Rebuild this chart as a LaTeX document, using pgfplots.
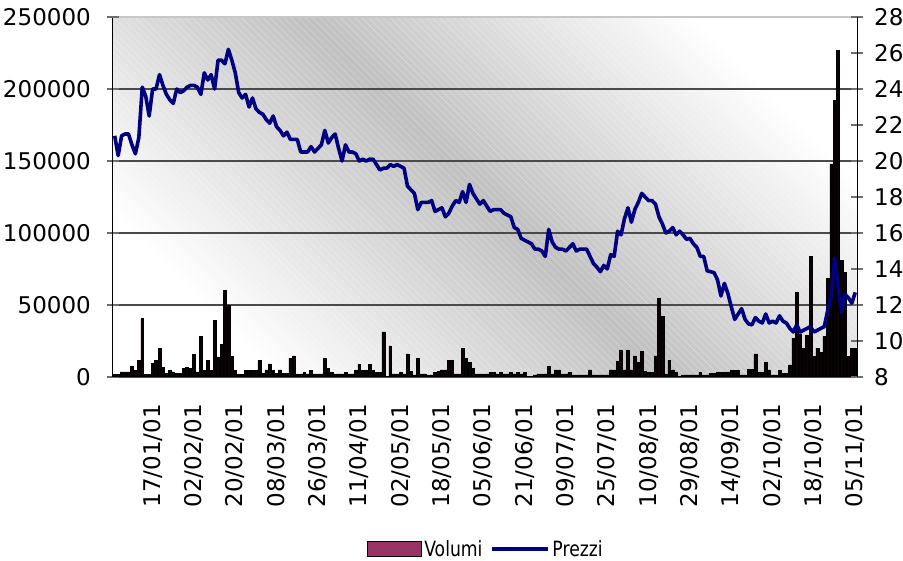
\documentclass[border=0pt]{standalone}
\usepackage{fontspec}
\setmainfont{DejaVu Sans}
\newfontfamily\legendfont{DejaVu Sans}[FakeStretch=0.82]
\usepackage{pgfplots}
\usepackage{pgfplotstable}
\pgfplotsset{compat=1.18}
\usetikzlibrary{patterns.meta}
\definecolor{volcol}{HTML}{993366}
\definecolor{barfill}{HTML}{0A0204}
\definecolor{prezzi}{HTML}{000080}
\definecolor{bgmid}{HTML}{C0C0C0}
\definecolor{gridc}{HTML}{4A4A4A}
\definecolor{tickc}{HTML}{6E6E6E}

\pgfplotstableread{
i v p
0 1850 21.4
1 1850 20.3
2 3470 21.4
3 3470 21.5
4 3470 21.5
5 7400 20.9
6 4630 20.4
7 11570 21.3
8 40500 24.1
9 1850 23.6
10 1850 22.5
11 9260 24.0
12 11570 24.0
13 19680 24.8
14 6940 24.2
15 2300 23.7
16 4630 23.4
17 3470 23.2
18 2300 24.0
19 2300 23.8
20 5790 23.9
21 6940 24.1
22 5790 24.2
23 15740 24.2
24 3470 24.1
25 28240 23.7
26 4630 24.9
27 11570 24.5
28 4630 24.8
29 39350 24.0
30 13890 25.6
31 22680 25.6
32 60180 25.4
33 49770 26.2
34 14350 25.6
35 4630 24.9
36 1850 23.8
37 1850 23.5
38 4630 23.7
39 4630 23.0
40 4630 23.5
41 4400 22.9
42 11340 22.7
43 2550 22.6
44 4860 22.3
45 9030 22.1
46 4400 22.5
47 2550 21.9
48 4860 21.7
49 2550 21.4
50 2550 21.6
51 12960 21.2
52 14580 21.2
53 2080 21.2
54 2080 20.5
55 3010 20.5
56 2080 20.5
57 4400 20.8
58 2080 20.5
59 2080 20.7
60 2080 20.9
61 12960 21.7
62 6020 21.0
63 3010 21.3
64 2080 21.5
65 2080 20.7
66 2080 20.0
67 3010 20.9
68 2080 20.5
69 2080 20.5
70 4400 20.4
71 8800 20.0
72 4400 20.1
73 4400 20.0
74 8800 20.1
75 4400 20.1
76 3010 19.8
77 3010 19.5
78 31250 19.6
79 0 19.6
80 21530 19.8
81 2080 19.7
82 2080 19.8
83 3000 19.7
84 2080 19.6
85 15970 18.6
86 3700 18.4
87 1390 18.2
88 12960 17.3
89 2080 17.7
90 2080 17.7
91 1390 17.7
92 1390 17.8
93 3000 17.2
94 3700 17.3
95 4860 17.4
96 4860 16.9
97 11800 17.1
98 11800 17.5
99 2080 17.8
100 2080 17.7
101 19900 18.3
102 12960 17.7
103 9950 18.7
104 6020 18.2
105 2080 17.9
106 2080 17.6
107 2080 17.8
108 2080 17.5
109 3000 17.2
110 3000 17.3
111 2080 17.3
112 3000 17.3
113 2080 17.1
114 2080 17.0
115 3000 16.9
116 2080 16.3
117 3000 16.2
118 2080 15.7
119 3000 15.6
120 0 15.5
121 0 15.4
122 1390 15.1
123 2080 15.1
124 2080 15.0
125 2080 14.7
126 7170 16.2
127 2080 15.5
128 4860 15.2
129 4860 15.1
130 2080 15.1
131 2080 15.0
132 3000 15.2
133 1390 15.4
134 1390 15.0
135 1390 15.1
136 1390 15.1
137 1390 15.1
138 4860 14.7
139 1390 14.3
140 1390 14.1
141 1390 13.85
142 1390 14.2
143 1390 14.0
144 4860 14.8
145 4860 14.7
146 10640 16.1
147 18750 15.9
148 4860 16.8
149 18750 17.4
150 4860 16.6
151 14580 17.3
152 10000 17.7
153 17590 18.2
154 3700 18.0
155 3000 17.8
156 3000 17.8
157 14580 17.6
158 54630 16.9
159 41900 16.5
160 2080 16.0
161 11340 16.1
162 4860 16.3
163 3000 15.9
164 0 16.1
165 1390 15.9
166 1390 15.65
167 1390 15.7
168 1390 15.4
169 1390 15.2
170 3000 14.7
171 1390 14.7
172 1390 13.9
173 2550 13.85
174 2550 13.8
175 3000 13.4
176 3000 12.5
177 3000 13.2
178 3000 12.65
179 4400 11.9
180 4400 11.2
181 4400 11.5
182 1390 11.8
183 1390 11.2
184 5320 10.95
185 5320 10.9
186 15970 11.3
187 3000 11.1
188 3000 11.0
189 9950 11.5
190 4860 11.0
191 1390 11.1
192 1390 11.0
193 4400 11.4
194 2550 11.1
195 2550 11.0
196 8500 10.7
197 27000 10.5
198 59000 10.9
199 30000 10.5
200 20000 10.6
201 29000 10.7
202 84000 10.8
203 14500 10.5
204 20000 10.6
205 17000 10.7
206 28000 10.8
207 68500 11.7
208 148000 12.5
209 192000 14.6
210 227000 13.0
211 81000 11.6
212 72500 12.6
213 14500 12.4
214 20000 12.1
215 20000 12.7
}\datatab

\begin{document}
\begin{tikzpicture}
\useasboundingbox (0,0) rectangle (903pt,561pt);
\begin{axis}[
  at={(113pt,184pt)}, anchor=south west,
  scale only axis, width=744pt, height=360pt,
  xmin=-0.5, xmax=215.5, ymin=0, ymax=250000,
  scaled y ticks=false,
  axis x line*=bottom, axis y line*=left,
  axis line style={-, black, line width=1pt},
  axis background/.style={top color=white, bottom color=white, middle color=bgmid, shading angle=-45,
     postaction={pattern={Lines[angle=-45,distance=5pt,line width=0.6pt]}, pattern color=white, opacity=0.3}},
  ytick={0,50000,100000,150000,200000},
  yticklabels={0,50000,100000,150000,200000},
  extra y ticks={250000},
  extra y tick labels={250000},
  extra y tick style={grid=major, major grid style={black!22, line width=1.5pt}},
  ymajorgrids, major grid style={gridc, line width=1.2pt},
  tick align=center, major tick length=12pt, tick style={tickc, line width=1.2pt},
  xtick style={draw=none},
  tick label style={font=\fontsize{23}{23}\selectfont, black},
  yticklabel style={xshift=-16pt, anchor=east, inner sep=0pt},
  xtick={11,23,...,215},
  xticklabels={17/01/01,02/02/01,20/02/01,08/03/01,26/03/01,11/04/01,02/05/01,18/05/01,05/06/01,21/06/01,09/07/01,25/07/01,10/08/01,29/08/01,14/09/01,02/10/01,18/10/01,05/11/01},
  xticklabel style={yshift=-21pt, rotate=90, anchor=east, inner sep=0pt},
]
\addplot[ybar, bar width=2.8pt, fill=barfill, draw=black, line width=0.5pt] table[x=i,y=v]{\datatab};
\end{axis}
\begin{axis}[
  at={(113pt,184pt)}, anchor=south west,
  scale only axis, width=744pt, height=360pt,
  xmin=-0.5, xmax=215.5, ymin=8, ymax=28,
  axis y line*=right, axis x line=none,
  axis line style={-, black, line width=1pt},
  ytick={8,10,...,28},
  yticklabels={8,10,12,14,16,18,20,22,24,26,28},
  tick align=center, major tick length=12pt, tick style={tickc, line width=1.2pt},
  tick label style={font=\fontsize{23}{23}\selectfont, black},
  yticklabel style={xshift=11pt, anchor=west, inner sep=0pt},
  legend style={at={(0.501,-0.478)}, anchor=center, draw=none, fill=none,
    legend columns=-1, inner sep=0pt,
    font=\legendfont\fontsize{21}{24}\selectfont,
    /tikz/every even column/.append style={column sep=6pt}},
]
\addlegendimage{legend image code/.code={\draw[fill=volcol,draw=black,line width=1.5pt] (0pt,-7.5pt) rectangle (54pt,7.5pt);}}
\addlegendentry{Volumi}
\addplot[prezzi, line width=3.6pt, line join=round, mark=none,
  legend image code/.code={\draw[prezzi, line width=4pt] (0pt,0pt) -- (56pt,0pt);}] table[x=i,y=p]{\datatab};
\addlegendentry{Prezzi}
\end{axis}
\end{tikzpicture}
\end{document}
